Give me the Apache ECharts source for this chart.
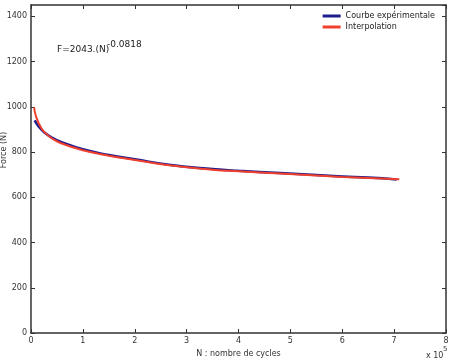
<!DOCTYPE html>
<html>
<head>
<meta charset="utf-8">
<script src="https://cdn.jsdelivr.net/npm/echarts@6/dist/echarts.min.js"></script>
<style>
  html, body { margin: 0; padding: 0; background: #fff; }
  #main { width: 452px; height: 363px; }
</style>
</head>
<body>
<div id="main"></div>
<script>
// N in units of 1e5 cycles, force in N
var expN = [0.07, 0.15, 0.25, 0.4, 0.6, 1.0, 1.5, 2.0, 2.7, 3.5, 4.0, 4.8, 5.5, 6.0, 6.5, 7.05];
var expF = [940, 912, 888, 864, 843, 812, 787, 768, 743, 725, 717, 707, 698, 692, 687, 679];

var fitN = [0.06, 0.1, 0.2, 0.3, 0.4, 0.58, 1.0, 1.5, 2.0, 2.7, 3.5, 4.0, 4.8, 5.5, 6.0, 6.5, 7.1];
var fitF = [998, 955, 905, 879, 861, 839, 808, 784, 765, 740, 722, 715, 705, 696, 690, 685, 680];

var xTicks = [0, 1, 2, 3, 4, 5, 6, 7, 8];
var yTicks = [0, 200, 400, 600, 800, 1000, 1200, 1400];

var font = 'DejaVu Sans';

function pairs(xs, ys) {
  return xs.map(function (x, i) { return [x, ys[i]]; });
}

var chart = echarts.init(document.getElementById('main'));

var axisLine = { onZero: false, lineStyle: { color: '#333', width: 1.5 } };
var tickIn = { inside: true, length: 4, lineStyle: { color: '#333' } };

var option = {
  backgroundColor: '#fff',
  animation: false,
  grid: { left: 31, right: 6, top: 5, bottom: 30, containLabel: false, outerBoundsMode: 'none' },
  legend: {
    right: 12,
    top: 7,
    orient: 'vertical',
    itemWidth: 18,
    itemHeight: 3,
    itemGap: 3,
    icon: 'rect',
    textStyle: { fontFamily: font, fontSize: 8, color: '#222' },
    data: ['Courbe expérimentale', 'Interpolation']
  },
  xAxis: [{
    type: 'value',
    min: 0, max: 8, interval: 1,
    name: 'N : nombre de cycles',
    nameLocation: 'middle',
    nameGap: 17,
    nameTextStyle: { fontFamily: font, fontSize: 8, color: '#333' },
    axisLine: axisLine,
    axisTick: tickIn,
    splitLine: { show: false },
    axisLabel: {
      fontFamily: font, fontSize: 8, color: '#333', margin: 4,
      formatter: function (v) { return xTicks.indexOf(v) >= 0 ? String(v) : ''; }
    }
  }, {
    type: 'value', position: 'top',
    min: 0, max: 8, interval: 1,
    axisLine: axisLine, axisTick: tickIn,
    axisLabel: { show: false }, splitLine: { show: false }
  }],
  yAxis: [{
    type: 'value',
    min: 0, max: 1450, interval: 200,
    axisLine: axisLine,
    axisTick: tickIn,
    splitLine: { show: false },
    axisLabel: {
      fontFamily: font, fontSize: 8, color: '#333', margin: 4,
      showMaxLabel: false,
      formatter: function (v) { return yTicks.indexOf(v) >= 0 ? String(v) : ''; }
    }
  }, {
    type: 'value', position: 'right',
    min: 0, max: 1450, interval: 200,
    axisLine: axisLine, axisTick: tickIn,
    axisLabel: { show: false }, splitLine: { show: false }
  }],
  graphic: [
    { type: 'text', left: 57, top: 45, style: { text: 'F=2043.(N)', fontFamily: font, fontSize: 9, fill: '#222' } },
    { type: 'text', left: 107, top: 40, style: { text: '-0.0818', fontFamily: font, fontSize: 9, fill: '#222' } },
    { type: 'text', left: 426, top: 352, style: { text: 'x 10', fontFamily: font, fontSize: 8, fill: '#333' } },
    { type: 'text', left: 443, top: 346, style: { text: '5', fontFamily: font, fontSize: 7, fill: '#333' } },
    {
      type: 'text', x: 4, y: 150, rotation: Math.PI / 2,
      style: { text: 'Force (N)', fontFamily: font, fontSize: 8, fill: '#333', align: 'center', verticalAlign: 'middle' }
    }
  ],
  series: [{
    name: 'Courbe expérimentale',
    type: 'line',
    smooth: true,
    showSymbol: false,
    color: '#1c1c8e',
    lineStyle: { width: 2.5, color: '#1c1c8e' },
    data: pairs(expN, expF),
    z: 2
  }, {
    name: 'Interpolation',
    type: 'line',
    smooth: true,
    showSymbol: false,
    color: '#f0402c',
    lineStyle: { width: 2, color: '#f0402c' },
    data: pairs(fitN, fitF),
    z: 3
  }]
};

chart.setOption(option);
</script>
</body>
</html>
